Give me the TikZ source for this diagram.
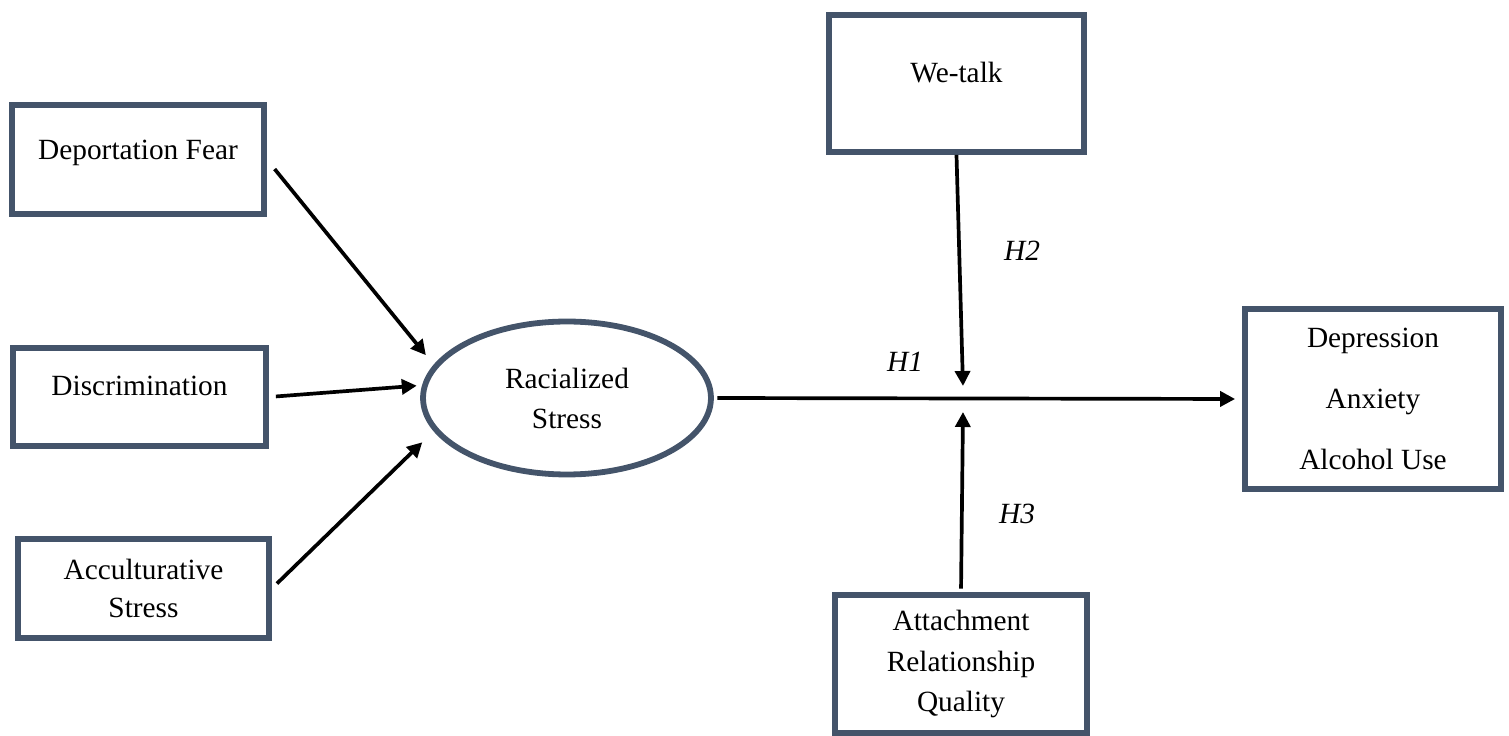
\documentclass[tikz,border=0pt]{standalone}
\usepackage{fontspec}
\setmainfont{Liberation Serif}
\usetikzlibrary{arrows.meta,shapes.geometric}
\definecolor{boxcol}{HTML}{44546A}

\begin{document}
\begin{tikzpicture}[x=0.02cm, y=-0.02cm,
  font=\fontsize{16.7}{22.8}\selectfont,
  box/.style={draw=boxcol, line width=3.3pt, align=center, inner sep=0pt},
  arr/.style={-{Triangle[length=0.3cm,width=0.3cm]}, line width=2.1pt},
  hyp/.style={font=\fontsize{16.7}{20}\selectfont\itshape}]

\useasboundingbox (0,0) rectangle (1509,736);

% Predictors
\node[box, minimum width=5.04cm, minimum height=2.18cm, text depth=10.5pt] (fear) at (138,159.5) {Deportation Fear};
\node[box, minimum width=5.06cm, minimum height=1.96cm, text depth=12.6pt] (discr) at (139.5,397) {Discrimination};
\node[box, minimum width=5.02cm, minimum height=1.98cm] (accul) at (143.5,588.5) {Acculturative\\[-1.5pt]Stress};

% Mediator
\node[box, ellipse, minimum width=5.76cm, minimum height=3.06cm] (stress) at (567,398) {Racialized\\Stress};

% Moderators
\node[box, minimum width=5.1cm, minimum height=2.74cm, text depth=12.6pt] (wetalk) at (956.5,83.5) {We-talk};
\node[box, minimum width=5.04cm, minimum height=2.76cm] (attach) at (961,664) {Attachment\\Relationship\\Quality};

% Outcomes
\node[box, minimum width=5.12cm, minimum height=3.6cm] (outcome) at (1373,399) {Depression\\[12pt]Anxiety\\[12pt]Alcohol Use};

% Points where the moderators meet H1
\coordinate (modtop) at (963,386);
\coordinate (modbot) at (963,412);

% Paths into racialized stress
\draw[arr, shorten <=7pt] (fear.east) -- (stress.166) [shorten >=7pt];
\draw[arr, shorten <=4pt, shorten >=3pt] (discr.east) -- (stress.175);
\draw[arr, shorten <=4pt, shorten >=9pt] (accul.east) -- (stress.194);

% Main path and moderation
\draw[arr, shorten <=2pt, shorten >=4pt] (stress.east) -- (outcome.west);
\draw[arr] (wetalk.south) -- (modtop);
\draw[arr, shorten <=2pt] (attach.north) -- (modbot);

% Hypothesis labels
\node[hyp] (h1) at (905,362) {H1};
\node[hyp] (h2) at (1022,251) {H2};
\node[hyp] (h3) at (1017,514) {H3};

\end{tikzpicture}
\end{document}
